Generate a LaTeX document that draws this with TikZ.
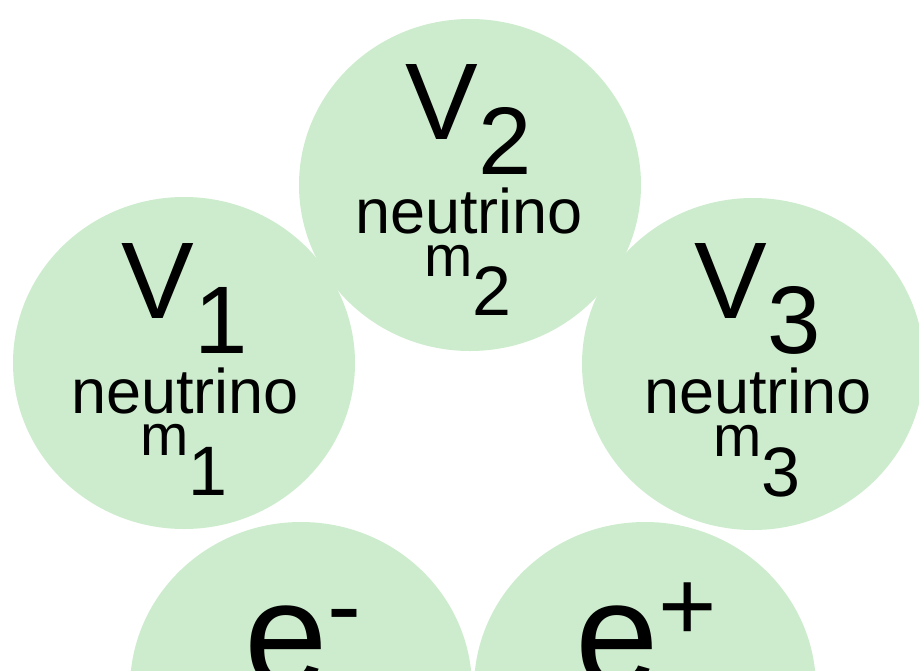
\documentclass[tikz,border=0pt]{standalone}
\usepackage{fontspec}
\usetikzlibrary{shapes.geometric}
\setmainfont{Liberation Sans}
\definecolor{ballgreen}{RGB}{205,236,205}
\newcommand{\fsz}[1]{\fontsize{#1}{#1}\selectfont}
\begin{document}
\begin{tikzpicture}[x=1pt,y=-1pt,
  ball/.style={ellipse,fill=ballgreen,inner sep=0pt,minimum width=342pt,minimum height=332pt},
  lbl/.style={inner sep=0pt,anchor=base,text=black}]
\useasboundingbox (0,0) rectangle (919,670);
\clip (0,0) rectangle (919,670);
\node[ball] (v1) at (184,363) {};
\node[ball] (v2) at (470,185) {};
\node[ball] (v3) at (753,364) {};
\node[ball] (eminus) at (301,688) {};
\node[ball] (eplus) at (645,688) {};
% v1
\node[lbl] (v1sym) at ([shift={(1,-45)}]v1.center) {\fsz{109}V\raisebox{-35pt}{\fsz{96}1}};
\node[lbl] (v1name) at ([shift={(1,50)}]v1.center) {\fsz{63}neutrino};
\node[lbl] (v1mass) at ([shift={(0,92)}]v1.center) {\fsz{58}m\raisebox{-40pt}{\fsz{70}1}};
% v2
\node[lbl] (v2sym) at ([shift={(-1,-46)}]v2.center) {\fsz{109}V\raisebox{-35pt}{\fsz{96}2}};
\node[lbl] (v2name) at ([shift={(-1,48)}]v2.center) {\fsz{63}neutrino};
\node[lbl] (v2mass) at ([shift={(-2,91)}]v2.center) {\fsz{58}m\raisebox{-39pt}{\fsz{70}2}};
% v3
\node[lbl] (v3sym) at ([shift={(5,-46)}]v3.center) {\fsz{109}V\raisebox{-35pt}{\fsz{96}3}};
\node[lbl] (v3name) at ([shift={(5,49)}]v3.center) {\fsz{63}neutrino};
\node[lbl] (v3mass) at ([shift={(4,92)}]v3.center) {\fsz{58}m\raisebox{-40pt}{\fsz{70}3}};
% electrons
\node[lbl] (emlbl) at ([shift={(2,-2)}]eminus.center) {\fsz{150}e\raisebox{46pt}{\fsz{102}-}};
\node[lbl] (eplbl) at ([shift={(1,-2)}]eplus.center) {\fsz{150}e\raisebox{46pt}{\fsz{100}+}};
\end{tikzpicture}
\end{document}
